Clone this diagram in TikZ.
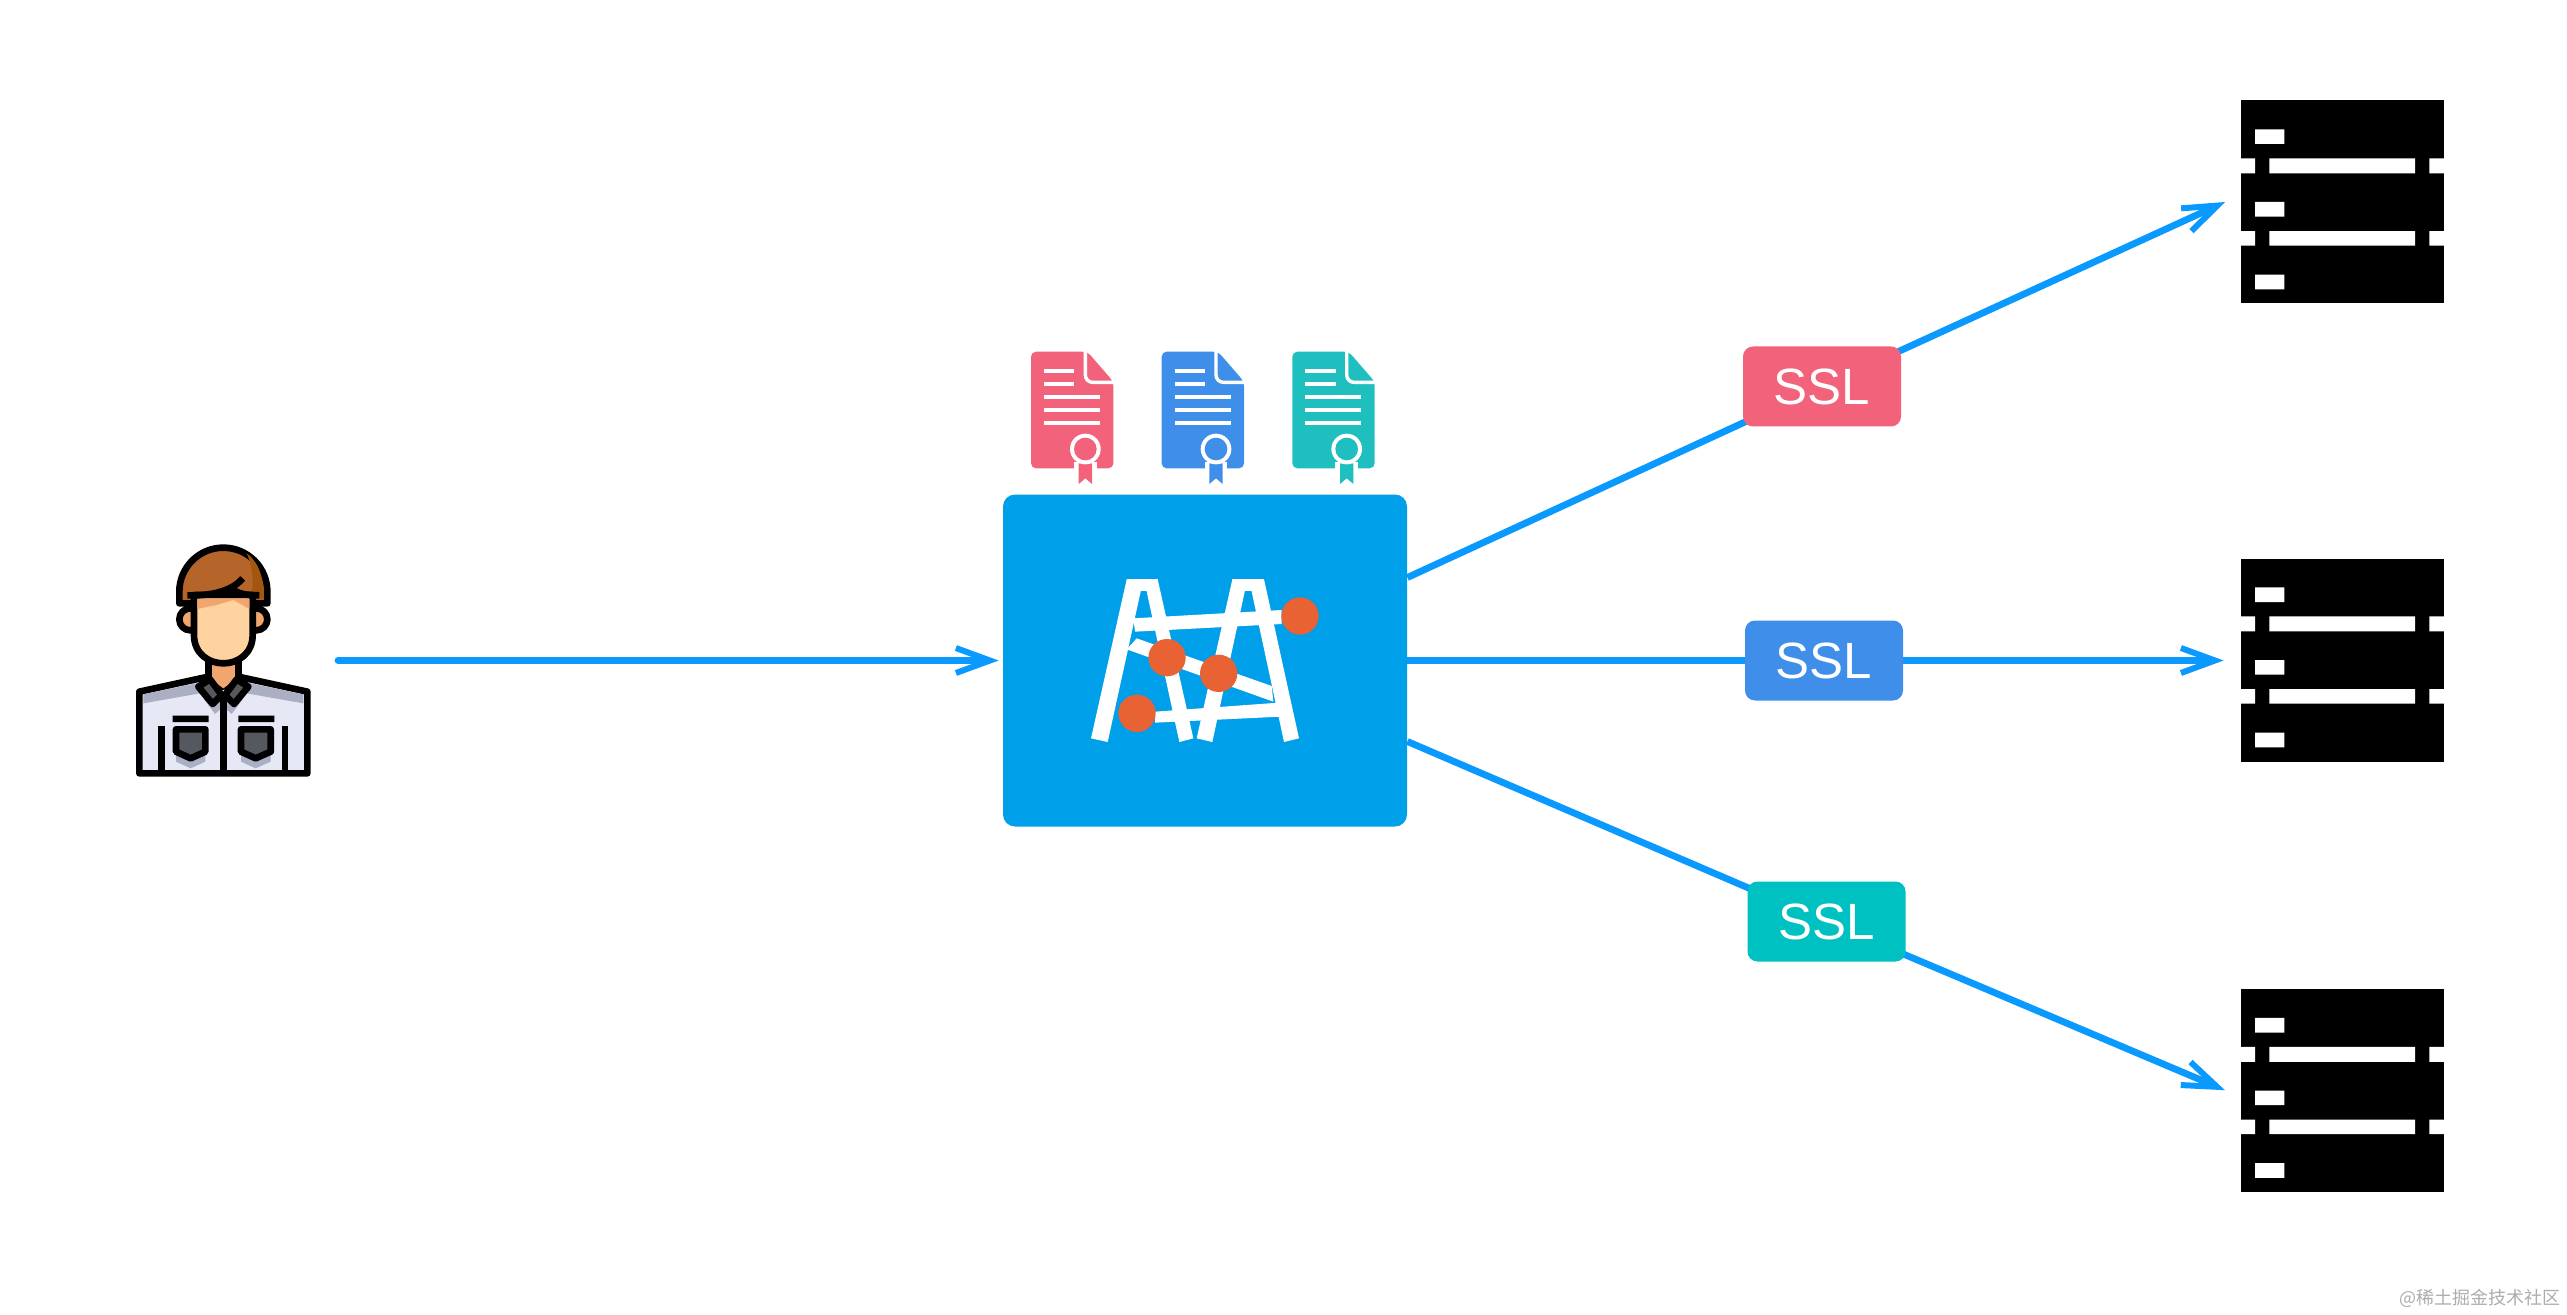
\documentclass[tikz,border=0pt]{standalone}
\usepackage{fontspec}
\setmainfont{Liberation Sans}
\newfontfamily\cjkfont{Noto Sans CJK SC}
\usetikzlibrary{arrows.meta,backgrounds}
\definecolor{connblue}{HTML}{0A99FF}
\definecolor{gwblue}{HTML}{009FE9}
\definecolor{sslred}{HTML}{F2637B}
\definecolor{sslblue}{HTML}{3F8EEA}
\definecolor{sslteal}{HTML}{00C1C1}
\definecolor{docteal}{HTML}{1FBFBF}
\definecolor{dotorange}{HTML}{E96233}
\definecolor{hairbrown}{HTML}{B5652A}
\definecolor{hairdark}{HTML}{A3560F}
\definecolor{skinlight}{HTML}{FFD3A0}
\definecolor{skinmid}{HTML}{F2A66F}
\definecolor{shirtlight}{HTML}{E6E8F5}
\definecolor{shirtshade}{HTML}{ABAFC3}
\definecolor{collargrey}{HTML}{55585F}
\tikzset{
  conn/.style={draw=connblue,line width=3.4pt},
  barbtip/.style={-{Straight Barb[length=17pt,width=12.5pt,line width=3pt]}},
  connarrow/.style={conn,barbtip,shorten >=8.5pt},
  sslbox/.style={rectangle,rounded corners=5pt,minimum width=79pt,minimum height=40pt,inner sep=0pt,text=white,font=\fontsize{25.5}{30}\selectfont},
  gateway/.style={rectangle,fill=gwblue,rounded corners=6pt,minimum width=202pt,minimum height=166pt,inner sep=0pt},
  servernode/.style={rectangle,fill=black,minimum width=101.5pt,minimum height=101.5pt,inner sep=0pt},
  zoomed/.style={x=0.16667pt,y=-0.16667pt},
  ink/.style={draw=black,line width=3.33pt,line join=round},
  docline/.style={draw=white,line width=2pt},
}
\newcommand{\docicon}[2]{%
  \begin{scope}[shift={(#1,0)}]
    \fill[#2,rounded corners=2.5pt] (153,65)--(322,65)--(400,155)--(400,415)--(153,415)--cycle;
    \draw[white,line width=1.7pt] (316,60)--(316,135) arc[start angle=180,end angle=90,radius=22]--(405,157);
    \draw[docline] (192,123)--(283,123) (192,161)--(283,161) (192,201)--(360,201) (192,240)--(360,240) (192,279)--(360,279);
    \fill[white] (282,395) rectangle (350,416);
    \fill[#2] (296,400)--(336,400)--(336,462)--(316,445)--(296,462)--cycle;
    \fill[white] (316,357) circle[radius=46];
    \fill[#2] (316,357) circle[radius=34];
  \end{scope}}
\newcommand{\serverdetail}[1]{%
  \begin{scope}[shift={(2200,#1)},zoomed]
    \fill[white] (118,235) rectangle (165,280) (208,235) rectangle (645,280) (688,235) rectangle (736,280);
    \fill[white] (118,453) rectangle (165,497) (208,453) rectangle (645,497) (688,453) rectangle (736,497);
    \fill[white] (165,148) rectangle (253,192) (165,366) rectangle (253,410) (165,584) rectangle (253,628);
  \end{scope}}
\pgfdeclarelayer{lines}
\pgfdeclarelayer{paper}
\pgfsetlayers{paper,lines,main}
\begin{document}
\begin{tikzpicture}[x=0.5pt,y=-0.5pt]
\useasboundingbox (0,0) rectangle (2567,1315);
\begin{pgfonlayer}{paper}
\fill[white] (0,0) rectangle (2567,1315);
\end{pgfonlayer}

% nodes
\node[gateway] (gw) at (1205,660.5) {};
\node[sslbox,fill=sslred] (ssl1) at (1822,386.5) {SSL};
\node[sslbox,fill=sslblue] (ssl2) at (1824,660.5) {SSL};
\node[sslbox,fill=sslteal] (ssl3) at (1826.5,921.5) {SSL};
\node[servernode] (srv1) at (2342.5,201.5) {};
\node[servernode] (srv2) at (2342.5,660.5) {};
\node[servernode] (srv3) at (2342.5,1090) {};
\coordinate (user) at (338,660.5);

% connectors
\begin{pgfonlayer}{lines}
\draw[conn,line cap=round,barbtip,shorten >=2pt] (user) -- (gw.west);
\draw[conn] ([yshift=41.5pt]gw.east) -- (ssl1.center);
\draw[connarrow] (ssl1.center) -- ([yshift=3.3pt]srv1.west);
\draw[conn] (gw.east) -- (ssl2.center);
\draw[connarrow] (ssl2.center) -- (srv2.west);
\draw[conn] ([yshift=-40.5pt]gw.east) -- (ssl3.center);
\draw[connarrow] (ssl3.center) -- ([yshift=-3.4pt]srv3.west);
\end{pgfonlayer}

% server details
\serverdetail{80}
\serverdetail{538}
\serverdetail{968.5}

% certificates and logo
\begin{scope}[shift={(980,330)},zoomed]
  \docicon{0}{sslred}
  \docicon{392}{sslblue}
  \docicon{784}{docteal}
  \fill[white] (440,748)--(333,1225)--(383,1236)--(490,748)--cycle;
  \fill[white] (533,748)--(640,1225)--(598,1236)--(492,748)--cycle;
  \fill[white] (757,748)--(650,1225)--(697,1236)--(802,748)--cycle;
  \fill[white] (852,748)--(957,1225)--(912,1236)--(807,748)--cycle;
  \fill[white] (440,748) rectangle (533,783);
  \fill[white] (757,748) rectangle (852,783);
  \fill[white] (460,865)--(905,840)--(905,882)--(465,905)--cycle;
  \fill[white] (525,1145)--(895,1118)--(900,1160)--(525,1178)--cycle;
  \fill[white] (470,925)--(875,1068)--(880,1115)--(440,958)--cycle;
  \fill[dotorange] (960,858) circle[radius=56];
  \fill[dotorange] (561,983) circle[radius=56];
  \fill[dotorange] (716,1030) circle[radius=56];
  \fill[dotorange] (471,1150) circle[radius=56];
\end{scope}

% person
\begin{scope}[shift={(100,510)},zoomed]
  % neck
  \fill[skinmid] (325,450) rectangle (415,515);
  % shirt
  \filldraw[fill=shirtlight,ink] (118,545)--(325,500)--(370,530)--(415,500)--(622,545)--(622,790)--(118,790)--cycle;
  \fill[skinmid] (330,460)--(410,460)--(410,505)--(370,535)--(330,505)--cycle;
  \draw[ink] (325,450)--(325,505) (415,450)--(415,505);
  \fill[shirtshade] (130,553)--(290,520)--(300,550)--(130,580)--cycle;
  \fill[shirtshade] (610,553)--(450,520)--(440,550)--(610,580)--cycle;
  \fill[shirtshade] (310,565)--(345,612)--(370,590)--(395,612)--(430,565)--cycle;
  % pocket shadows
  \fill[shirtshade] (228,730)--(228,755)--(272,775)--(316,755)--(316,730)--cycle;
  \fill[shirtshade] (423,730)--(423,755)--(467,775)--(512,755)--(512,730)--cycle;
  % collar
  \filldraw[fill=collargrey,ink] (295,530)--(330,508)--(365,555)--(338,582)--cycle;
  \filldraw[fill=collargrey,ink] (445,530)--(410,508)--(375,555)--(402,582)--cycle;
  % lines
  \draw[ink] (370,560)--(370,790) (184,648)--(184,790) (555,648)--(555,790);
  \fill[black] (218,617) rectangle (326,636) (415,617) rectangle (523,636);
  \filldraw[fill=collargrey,ink] (228,658)--(316,658)--(316,725)--(272,745)--(228,725)--cycle;
  \filldraw[fill=collargrey,ink] (423,658)--(512,658)--(512,725)--(467,745)--(423,725)--cycle;
  % ears
  \filldraw[fill=skinmid,ink] (271,328) circle[radius=33];
  \filldraw[fill=skinmid,ink] (469,328) circle[radius=33];
  % hair
  \filldraw[fill=hairbrown,ink] (238,280)--(238,245) arc[start angle=180,end angle=360,radius=132]--(502,280)--cycle;
  \fill[hairdark] (440,130) .. controls (480,160) and (492,210) .. (492,270)--(455,250) .. controls (462,210) and (455,160) .. (440,130)--cycle;
  % face
  \filldraw[fill=skinlight,ink] (282,255)--(458,255)--(458,375) .. controls (458,430) and (415,460) .. (370,460) .. controls (325,460) and (282,430) .. (282,375)--cycle;
  \fill[skinmid] (292,265)--(448,265)--(448,297)--(400,270)--(350,285)--(292,297)--cycle;
  % fringe
  \draw[ink,fill=none] (262,256) .. controls (330,258) and (395,245) .. (428,205);
  \draw[ink] (392,232) .. controls (410,252) and (440,256) .. (478,256);
\end{scope}

% watermark
\node[anchor=east,inner sep=0pt,text=black!32,font=\cjkfont\fontsize{9}{11}\selectfont] (mark) at (2561,1298) {@稀土掘金技术社区};
\end{tikzpicture}
\end{document}
